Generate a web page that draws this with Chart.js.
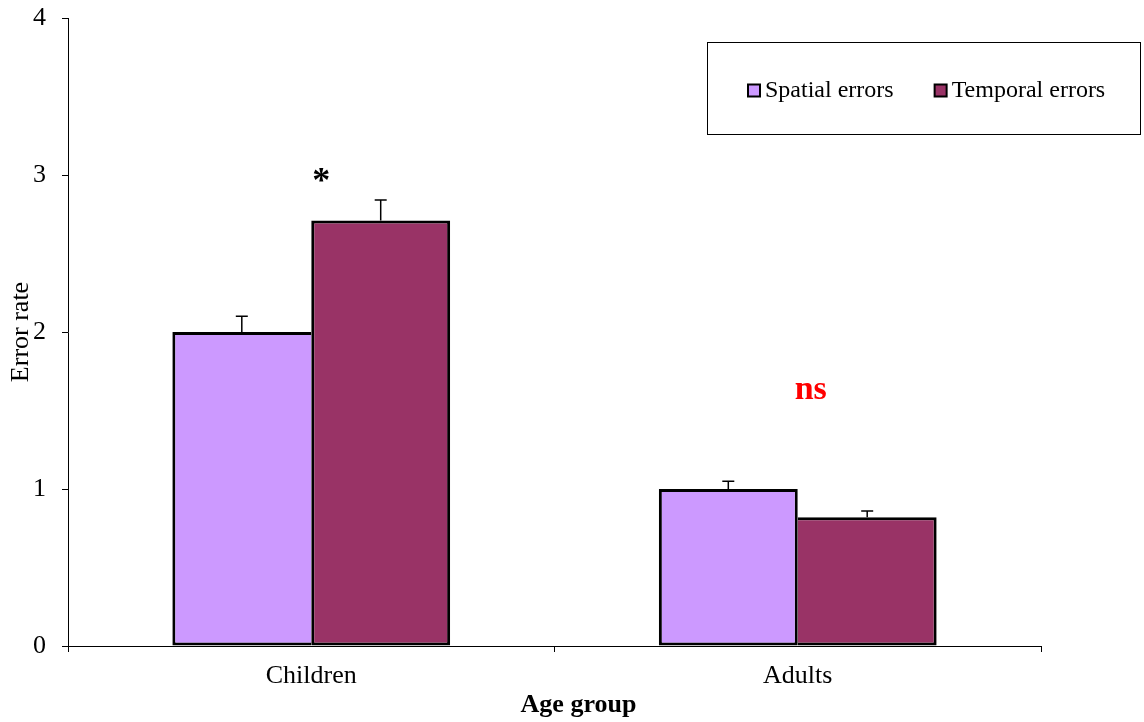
<!DOCTYPE html>
<html>
<head>
<meta charset="utf-8">
<script src="https://cdn.jsdelivr.net/npm/chart.js@4/dist/chart.umd.min.js"></script>
<style>
  html, body { margin: 0; padding: 0; background: #fff; }
  #wrap { width: 1144px; height: 722px; }
</style>
</head>
<body>
<div id="wrap"><canvas id="my-chart" width="1144" height="722"></canvas></div>
<script>
const ageGroups = ['Children', 'Adults'];
const seriesNames = ['Spatial errors', 'Temporal errors'];
const spatialErrors = [2.0, 1.0];
const spatialSE = [0.10, 0.05];
const temporalErrors = [2.71, 0.82];
const temporalSE = [0.13, 0.04];
const yTicks = [0, 1, 2, 3, 4];

const SERIF = '"Liberation Serif", "Times New Roman", serif';

// the shared edge between two bars is drawn only by the taller one
function edgeBorder(own, other, side) {
  return ctx => {
    const w = { top: 3, right: 3, bottom: 3, left: 3 };
    if (own[ctx.dataIndex] < other[ctx.dataIndex]) w[side] = 0;
    return w;
  };
}

const errorBars = {
  id: 'errorBars',
  afterDatasetsDraw(chart) {
    const ctx = chart.ctx;
    const y = chart.scales.y;
    ctx.save();
    ctx.strokeStyle = '#000';
    ctx.lineWidth = 1.5;
    chart.data.datasets.forEach((ds, d) => {
      chart.getDatasetMeta(d).data.forEach((bar, i) => {
        const top = y.getPixelForValue(ds.data[i] + ds.se[i]);
        ctx.beginPath();
        ctx.moveTo(bar.x, bar.y);
        ctx.lineTo(bar.x, top);
        ctx.moveTo(bar.x - 6, top);
        ctx.lineTo(bar.x + 6, top);
        ctx.stroke();
      });
    });
    ctx.restore();
  }
};

// significance marks above each group, plus the x axis title
const annotations = {
  id: 'annotations',
  afterDraw(chart) {
    const { ctx, chartArea, scales: { x, y } } = chart;
    ctx.save();
    ctx.textAlign = 'center';
    ctx.textBaseline = 'middle';
    ctx.fillStyle = '#000';
    ctx.font = 'bold 36px ' + SERIF;
    ctx.fillText('*', x.getPixelForValue(0) + 10, y.getPixelForValue(2.95));
    ctx.fillStyle = '#ff0000';
    ctx.font = 'bold 34px ' + SERIF;
    ctx.fillText('ns', x.getPixelForValue(1) + 13, y.getPixelForValue(1.63));
    ctx.fillStyle = '#000';
    ctx.font = 'bold 26px ' + SERIF;
    ctx.fillText('Age group', (chartArea.left + chartArea.right) / 2 + 24, chartArea.bottom + 59);
    ctx.restore();
  }
};

// boxed legend in the upper right
const boxLegend = {
  id: 'boxLegend',
  afterDraw(chart) {
    const ctx = chart.ctx;
    const box = { x: 707.5, y: 42.5, w: 433, h: 92 };
    ctx.save();
    ctx.strokeStyle = '#000';
    ctx.lineWidth = 1;
    ctx.strokeRect(box.x, box.y, box.w, box.h);
    ctx.font = '24px ' + SERIF;
    ctx.textBaseline = 'middle';
    ctx.textAlign = 'left';
    let lx = 747;
    const cy = box.y + box.h / 2 + 2;
    chart.data.datasets.forEach(ds => {
      ctx.fillStyle = '#000';
      ctx.fillRect(lx, cy - 7, 14, 14);
      ctx.fillStyle = ds.backgroundColor;
      ctx.fillRect(lx + 2, cy - 5, 10, 10);
      ctx.fillStyle = '#000';
      ctx.fillText(ds.label, lx + 18, cy);
      lx += ctx.measureText(ds.label).width + 18 + 40;
    });
    ctx.restore();
  }
};

const ctx = document.getElementById('my-chart').getContext('2d');
const chart = new Chart(ctx, {
  type: 'bar',
  data: {
    labels: ageGroups,
    datasets: [
      {
        label: seriesNames[0],
        data: spatialErrors,
        se: spatialSE,
        backgroundColor: '#cc99ff',
        borderColor: '#000',
        borderWidth: edgeBorder(spatialErrors, temporalErrors, 'right'),
        borderSkipped: false,
        barPercentage: 1,
        categoryPercentage: 0.571
      },
      {
        label: seriesNames[1],
        data: temporalErrors,
        se: temporalSE,
        backgroundColor: '#993366',
        borderColor: '#000',
        borderWidth: edgeBorder(temporalErrors, spatialErrors, 'left'),
        borderSkipped: false,
        barPercentage: 1,
        categoryPercentage: 0.571
      }
    ]
  },
  options: {
    responsive: false,
    animation: false,
    layout: { padding: { top: 18, right: 103, bottom: 0, left: 0 } },
    plugins: {
      legend: { display: false },
      tooltip: { enabled: false }
    },
    scales: {
      x: {
        offset: true,
        grid: { offset: true, drawOnChartArea: false, tickLength: 6, color: '#000' },
        border: { color: '#000', width: 1 },
        ticks: { color: '#000', font: { family: SERIF, size: 26 }, padding: 9 },
        afterFit: s => { s.height = 76; }
      },
      y: {
        min: 0,
        max: 4,
        afterBuildTicks: s => { s.ticks = yTicks.map(v => ({ value: v })); },
        grid: { drawOnChartArea: false, tickLength: 6, color: '#000' },
        border: { color: '#000', width: 1 },
        ticks: { color: '#000', font: { family: SERIF, size: 26 }, padding: 16 },
        title: {
          display: true,
          text: 'Error rate',
          color: '#000',
          font: { family: SERIF, size: 26 },
          padding: { top: 6, bottom: 0 }
        },
        afterFit: s => {
          s.width = 68;
          s.paddingTop = 0;
          s.paddingBottom = 0;
        }
      }
    }
  },
  plugins: [errorBars, annotations, boxLegend]
});
</script>
</body>
</html>
